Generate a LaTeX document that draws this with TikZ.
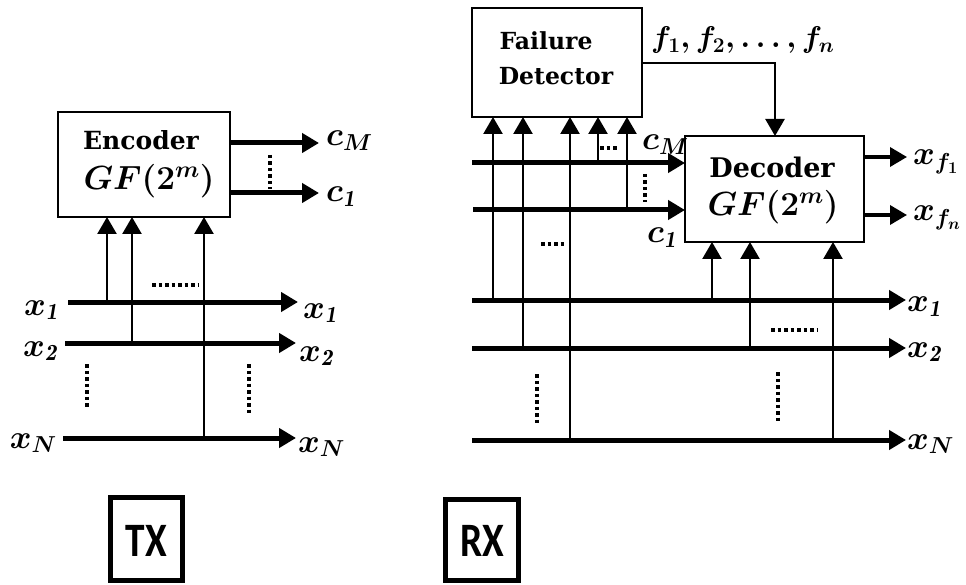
\documentclass[tikz,border=0pt]{standalone}
\usepackage{fix-cm}
\usepackage{amsmath}
\usepackage{fontspec}
\newfontfamily\lblsans{Carlito}
\newfontfamily\boxserif{DejaVu Serif}
\usetikzlibrary{arrows.meta}
\tikzset{
  blk/.style={draw, line width=2.5pt, inner sep=0pt, outer sep=0pt},
  lblbox/.style={draw, line width=5pt, inner sep=0pt, outer sep=0pt},
  bus/.style={line width=5pt, -{Triangle[length=17pt,width=19pt]}},
  tap/.style={line width=2.5pt, -{Triangle[length=17pt,width=19pt]}},
  outl/.style={line width=3.5pt, -{Triangle[length=17pt,width=19pt]}},
  dotsl/.style={line width=3.5pt, dash pattern=on 3.5pt off 3pt},
  lbl/.style={inner sep=0pt, font=\fontsize{33}{35}\selectfont\boldmath},
  btxt/.style={inner sep=0pt, font=\fontsize{25}{27}\selectfont\boxserif\bfseries},
  gftxt/.style={inner sep=0pt, font=\fontsize{33.5}{35}\selectfont\boldmath},
  bigtxt/.style={inner sep=0pt, font=\fontsize{48}{50}\selectfont\lblsans\bfseries}
}
\begin{document}
\begin{tikzpicture}[x=1pt,y=-1pt]
\useasboundingbox (0,0) rectangle (966,585);

% ================= TX =================
\node[blk, minimum width=172pt, minimum height=105pt] (enc) at (144,164.5) {};
\node[btxt, anchor=base] (enct) at (141,150) {Encoder};
\node[gftxt, anchor=base] (encg) at (149,190) {$GF(2^m)$};

\coordinate (t1s) at (68,302);  \coordinate (t1e) at (298,302);
\coordinate (t2s) at (65,343);  \coordinate (t2e) at (296,343);
\coordinate (tNs) at (63,438);  \coordinate (tNe) at (296,438);
\draw[bus] (t1s) -- (t1e);
\draw[bus] (t2s) -- (t2e);
\draw[bus] (tNs) -- (tNe);

\coordinate (ta) at (107,302);
\coordinate (tb) at (132,343);
\coordinate (tc) at (204,438);
\draw[tap] (ta) -- (ta |- enc.south);
\draw[tap] (tb) -- (tb |- enc.south);
\draw[tap] (tc) -- (tc |- enc.south);

\coordinate (cMe) at (319,143);
\coordinate (c1e) at (319,193);
\draw[bus] (enc.east |- cMe) -- (cMe);
\draw[bus] (enc.east |- c1e) -- (c1e);

\node[lbl, anchor=base west] (tcM) at (326,146) {$c_{M}$};
\node[lbl, anchor=base west] (tc1) at (326,202) {$c_{\mathit{1}}$};

\node[lbl, anchor=base east] (tl1) at (58,315) {$x_{\mathit{1}}$};
\node[lbl, anchor=base east] (tl2) at (57,356) {$x_{\mathit{2}}$};
\node[lbl, anchor=base east] (tlN) at (57,448) {$x_{N}$};
\node[lbl, anchor=base west] (tr1) at (303,318) {$x_{\mathit{1}}$};
\node[lbl, anchor=base west] (tr2) at (299,361) {$x_{\mathit{2}}$};
\node[lbl, anchor=base west] (trN) at (298,452) {$x_{N}$};

\draw[dotsl] (270,155) -- (270,189);
\draw[dotsl] (152,285) -- (198,285);
\draw[dotsl] (87,364) -- (87,407);
\draw[dotsl] (249,364) -- (249,416);

\node[lblbox, minimum width=72pt, minimum height=83pt] (txb) at (146.5,539) {};
\node[bigtxt] (txt) at (146.5,541) {\scalebox{0.82}[1]{TX}};

% ================= RX =================
\node[blk, minimum width=170pt, minimum height=109pt] (fd) at (557,62.5) {};
\node[btxt, anchor=base, font=\fontsize{23.5}{25}\selectfont\boxserif\bfseries] (fdt1) at (546,50) {Failure};
\node[btxt, anchor=base, font=\fontsize{23.5}{25}\selectfont\boxserif\bfseries] (fdt2) at (556,85) {Detector};

\node[blk, minimum width=179pt, minimum height=106pt] (dec) at (774.5,189) {};
\node[btxt, anchor=base, font=\fontsize{27}{29}\selectfont\boxserif\bfseries] (dect) at (772,178) {Decoder};
\node[gftxt, anchor=base] (decg) at (773,216) {$GF(2^m)$};

\coordinate (r1s) at (472,300);  \coordinate (r1e) at (906,300);
\coordinate (r2s) at (472,348);  \coordinate (r2e) at (906,348);
\coordinate (rNs) at (472,440);  \coordinate (rNe) at (906,440);
\draw[bus] (r1s) -- (r1e);
\draw[bus] (r2s) -- (r2e);
\draw[bus] (rNs) -- (rNe);

\coordinate (rcMs) at (472,163);
\coordinate (rc1s) at (473,210);
\draw[bus] (rcMs) -- (rcMs -| dec.west);
\draw[bus] (rc1s) -- (rc1s -| dec.west);

% taps to failure detector
\coordinate (fa) at (493,300);
\coordinate (fb) at (523,348);
\coordinate (fc) at (570,440);
\coordinate (fe) at (598,163);
\coordinate (ff) at (627,210);
\draw[tap] (fa) -- (fa |- fd.south);
\draw[tap] (fb) -- (fb |- fd.south);
\draw[tap] (fc) -- (fc |- fd.south);
\draw[tap] (fe) -- (fe |- fd.south);
\draw[tap] (ff) -- (ff |- fd.south);

% taps to decoder
\coordinate (da) at (712,300);
\coordinate (db) at (750,348);
\coordinate (dc) at (833,440);
\draw[tap] (da) -- (da |- dec.south);
\draw[tap] (db) -- (db |- dec.south);
\draw[tap] (dc) -- (dc |- dec.south);

% failure detector to decoder
\coordinate (fdo) at (775,63);
\draw[tap] (fd.east |- fdo) -| (dec.north -| fdo);
\node[lbl, anchor=base west, font=\fontsize{30}{32}\selectfont\boldmath] (flist) at (651,48) {$f_{\mathbf{1}}, f_{\mathbf{2}}, \ldots, f_n$};

% decoder outputs
\coordinate (xf1e) at (907,157);
\coordinate (xfne) at (907,215);
\draw[outl] (dec.east |- xf1e) -- (xf1e);
\draw[outl] (dec.east |- xfne) -- (xfne);
\node[lbl, anchor=base west] (lxf1) at (913,165) {$x_{f_1}$};
\node[lbl, anchor=base west] (lxfn) at (913,221) {$x_{f_n}$};

\node[lbl, anchor=base west] (rcM) at (642,150) {$c_{M}$};
\node[lbl, anchor=base west] (rc1) at (647,243) {$c_{\mathit{1}}$};

\node[lbl, anchor=base west] (rr1) at (907,312) {$x_{\mathit{1}}$};
\node[lbl, anchor=base west] (rr2) at (907,357) {$x_{\mathit{2}}$};
\node[lbl, anchor=base west] (rrN) at (907,449) {$x_{N}$};

\draw[dotsl] (600,148) -- (617,148);
\draw[dotsl] (645,174) -- (645,202);
\draw[dotsl] (541,244) -- (567,244);
\draw[dotsl] (771,330) -- (817,330);
\draw[dotsl] (537,374) -- (537,423);
\draw[dotsl] (778,372) -- (778,421);

\node[lblbox, minimum width=73pt, minimum height=81pt] (rxb) at (482,540) {};
\node[bigtxt] (rxt) at (482,541) {\scalebox{0.82}[1]{RX}};

\end{tikzpicture}
\end{document}
